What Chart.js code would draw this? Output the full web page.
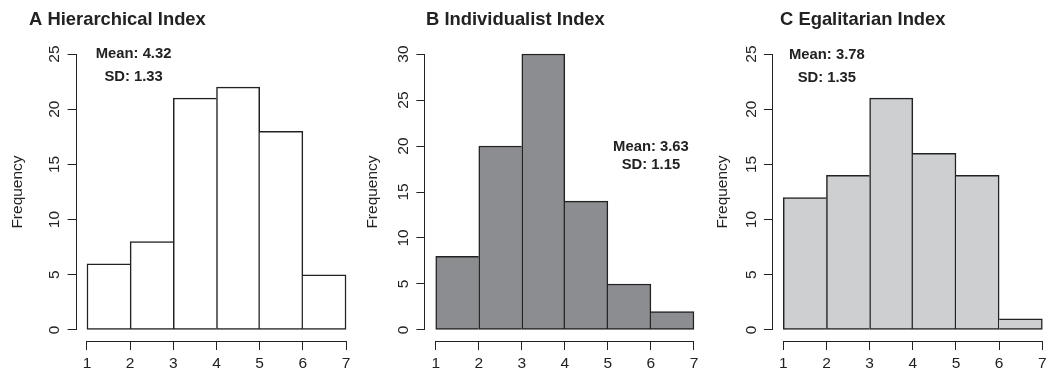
<!DOCTYPE html>
<html>
<head>
<meta charset="utf-8">
<script src="https://cdn.jsdelivr.net/npm/chart.js@4"></script>
<style>
  body { margin: 0; background: #fff; }
  #wrap { position: relative; width: 1053px; height: 375px; }
  canvas { position: absolute; left: 0; top: 0; }
</style>
</head>
<body>
<div id="wrap">
  <canvas id="histA" width="1053" height="375"></canvas>
  <canvas id="histB" width="1053" height="375"></canvas>
  <canvas id="histC" width="1053" height="375"></canvas>
</div>
<script>
// data
const binEdges = [1, 2, 3, 4, 5, 6, 7];
const xTicks = [1, 2, 3, 4, 5, 6, 7];
const titles = ['A Hierarchical Index', 'B Individualist Index', 'C Egalitarian Index'];
const hierarchical = [6, 8, 21, 22, 18, 5];
const individualist = [8, 20, 30, 14, 5, 2];
const egalitarian = [12, 14, 21, 16, 14, 1];
const means = [4.32, 3.63, 3.78];
const sds = [1.33, 1.15, 1.35];
const yTicksA = [0, 5, 10, 15, 20, 25];
const yTicksB = [0, 5, 10, 15, 20, 25, 30];
const yTicksC = [0, 5, 10, 15, 20, 25];

Chart.defaults.font.family = '"Liberation Sans", Arial, sans-serif';
Chart.defaults.color = '#222';

const INK = '#222';

// where each panel sits on the page
const panels = [
  { id: 'histA', counts: hierarchical, yTicks: yTicksA, fill: '#ffffff',
    left: 76.6, right: 356.4, yWidth: 67.8, titleX: 29, noteX: 2.08, noteY: [25.0, 22.9] },
  { id: 'histB', counts: individualist, yTicks: yTicksB, fill: '#8c8d91',
    left: 425.4, right: 704.3, yWidth: 62.4, titleX: 426, noteX: 6.0, noteY: [19.9, 17.9] },
  { id: 'histC', counts: egalitarian, yTicks: yTicksC, fill: '#cecfd1',
    left: 772.9, right: 1052.7, yWidth: 59.7, titleX: 780, noteX: 2.01, noteY: [24.9, 22.85] }
];
const areaTop = 43, areaBottom = 341, xHeight = 34;

// R style axes: lines only over the tick range, plus panel title and notes
const rAxes = {
  id: 'rAxes',
  afterDraw(chart, args, o) {
    const { ctx, chartArea, scales: { x, y } } = chart;
    const al = v => Math.round(v - 0.5) + 0.5;
    ctx.save();
    ctx.strokeStyle = INK;
    ctx.lineWidth = 1;
    ctx.beginPath();
    const ax = Math.round(chartArea.left) - 0.5;
    ctx.moveTo(ax, al(y.getPixelForValue(o.yTicks[0])));
    ctx.lineTo(ax, al(y.getPixelForValue(o.yTicks[o.yTicks.length - 1])));
    const ay = Math.round(chartArea.bottom) + 0.5;
    ctx.moveTo(al(x.getPixelForValue(xTicks[0])), ay);
    ctx.lineTo(al(x.getPixelForValue(xTicks[xTicks.length - 1])), ay);
    ctx.stroke();

    ctx.fillStyle = '#222';
    ctx.textBaseline = 'alphabetic';
    ctx.textAlign = 'left';
    ctx.font = 'bold 18.4px "Liberation Sans", Arial, sans-serif';
    ctx.fillText(o.title, o.titleX, 25);

    ctx.textAlign = 'center';
    ctx.textBaseline = 'middle';
    ctx.font = 'bold 14.8px "Liberation Sans", Arial, sans-serif';
    const nx = x.getPixelForValue(o.noteX);
    ctx.fillText('Mean: ' + o.mean.toFixed(2), nx, y.getPixelForValue(o.noteY[0]));
    ctx.fillText('SD: ' + o.sd.toFixed(2), nx, y.getPixelForValue(o.noteY[1]));
    ctx.restore();
  }
};

panels.forEach((p, k) => {
  const yMax = p.yTicks[p.yTicks.length - 1];
  const xMin = binEdges[0], xMax = binEdges[binEdges.length - 1];
  const pts = p.counts.map((c, i) => ({ x: (binEdges[i] + binEdges[i + 1]) / 2, y: c }));

  new Chart(document.getElementById(p.id), {
    type: 'bar',
    data: {
      datasets: [{
        data: pts,
        backgroundColor: p.fill,
        borderColor: INK,
        borderSkipped: false,
        // shared edges drawn once, by the taller bar
        borderWidth: ctx => {
          const d = ctx.dataset.data, i = ctx.dataIndex, h = d[i].y;
          const prev = i > 0 ? d[i - 1].y : -1;
          const next = i < d.length - 1 ? d[i + 1].y : -1;
          return { top: 1.5, bottom: 1.5, left: prev <= h ? 1.5 : 0, right: next < h ? 1.5 : 0 };
        },
        barPercentage: 1,
        categoryPercentage: 1
      }]
    },
    options: {
      responsive: false,
      animation: false,
      layout: {
        padding: { left: p.left - p.yWidth, right: 1053 - p.right, top: areaTop, bottom: 375 - areaBottom - xHeight }
      },
      plugins: {
        legend: { display: false },
        tooltip: { enabled: false },
        rAxes: { title: titles[k], titleX: p.titleX, mean: means[k], sd: sds[k],
                 noteX: p.noteX, noteY: p.noteY, yTicks: p.yTicks }
      },
      scales: {
        x: {
          type: 'linear',
          offset: false,
          min: xMin - 0.04 * (xMax - xMin),
          max: xMax + 0.04 * (xMax - xMin),
          afterBuildTicks: s => { s.ticks = xTicks.map(v => ({ value: v })); },
          afterFit: s => { s.height = xHeight; },
          border: { display: false },
          grid: { offset: false, drawOnChartArea: false, drawTicks: true, tickLength: 9, color: INK },
          ticks: { autoSkip: false, maxRotation: 0, padding: 4, font: { size: 15.5 }, color: '#222' }
        },
        y: {
          min: -0.04 * yMax,
          max: 1.04 * yMax,
          afterBuildTicks: s => { s.ticks = p.yTicks.map(v => ({ value: v })); },
          afterFit: s => { s.width = p.yWidth; },
          border: { display: false },
          grid: { drawOnChartArea: false, drawTicks: true, tickLength: 9, color: INK },
          ticks: { autoSkip: false, minRotation: 90, maxRotation: 90, crossAlign: 'center',
                   padding: 4, font: { size: 15.5 }, color: '#222' },
          title: { display: true, text: 'Frequency', padding: 0, font: { size: 15.5 }, color: '#222' }
        }
      }
    },
    plugins: [rAxes]
  });
});
</script>
</body>
</html>
